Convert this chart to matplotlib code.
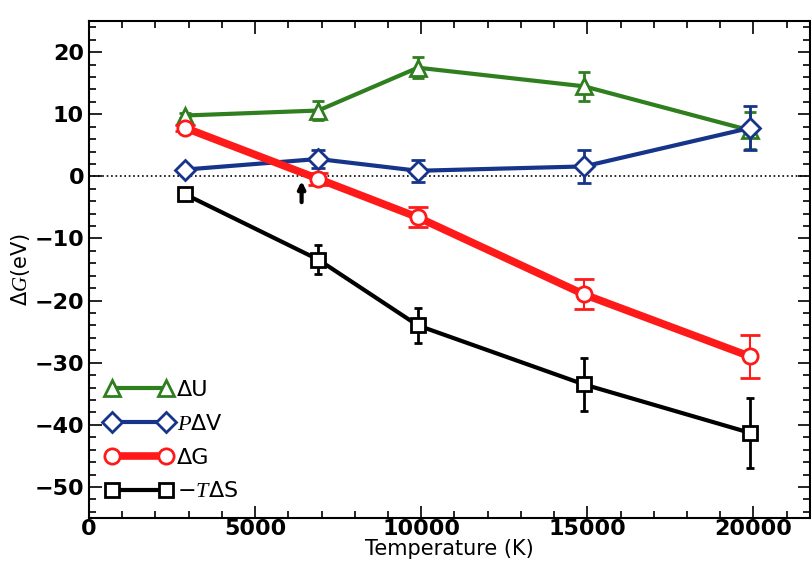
import numpy as np
import matplotlib
matplotlib.use('Agg')
import matplotlib.pyplot as plt
from matplotlib.ticker import MultipleLocator

# serif italic for the math symbols, sans for everything else
plt.rcParams['mathtext.fontset'] = 'custom'
plt.rcParams['mathtext.rm'] = 'DejaVu Sans'
plt.rcParams['mathtext.it'] = 'Liberation Serif:italic'
plt.rcParams['mathtext.bf'] = 'DejaVu Sans:bold'

# temperatures of the runs (K)
temps = [2900, 6900, 9900, 14900, 19900]

# energy contributions (eV) and their uncertainties
dU = [9.8, 10.6, 17.5, 14.5, 7.4]
dU_err = [0.4, 1.6, 1.7, 2.3, 3.0]
PdV = [1.1, 2.8, 0.9, 1.6, 7.8]
PdV_err = [0.3, 1.5, 1.8, 2.7, 3.5]
dG = [7.8, -0.4, -6.6, -19.0, -29.0]
dG_err = [0.5, 1.0, 1.6, 2.4, 3.4]
mTdS = [-2.9, -13.4, -24.0, -33.5, -41.3]
mTdS_err = [0.5, 2.3, 2.8, 4.2, 5.6]

# crossing point of dG through zero
T_cross = 6400

fig = plt.figure(figsize=(8.11, 5.64), dpi=100)
ax = fig.add_axes([0.1097, 0.0816, 0.889, 0.881])

ax.axhline(0, color='k', linestyle=':', linewidth=1.2, zorder=1)

c1 = ax.errorbar(temps, dU, yerr=dU_err, color='#2f7f1f', lw=3, marker='^', ms=11,
                 mfc='white', mec='#2f7f1f', mew=2, capsize=4, elinewidth=2,
                 capthick=2, zorder=2)
c2 = ax.errorbar(temps, PdV, yerr=PdV_err, color='#16348a', lw=3, marker='D', ms=10,
                 mfc='white', mec='#16348a', mew=2, capsize=5, elinewidth=2,
                 capthick=2, zorder=3)
c3 = ax.errorbar(temps, dG, yerr=dG_err, color='#ff1a1a', lw=5.5, marker='o', ms=11,
                 mfc='white', mec='#ff1a1a', mew=2, capsize=7, elinewidth=1.5,
                 capthick=1.5, zorder=4)
c4 = ax.errorbar(temps, mTdS, yerr=mTdS_err, color='k', lw=3, marker='s', ms=10,
                 mfc='white', mec='k', mew=2, capsize=3, elinewidth=2,
                 capthick=2, zorder=5)

ax.annotate('', xy=(T_cross, -0.3), xytext=(T_cross, -4.6),
            arrowprops=dict(arrowstyle='-|>', color='k', lw=3,
                            mutation_scale=10))

ax.set_xlim(0, 21700)
ax.set_ylim(-55, 25)
ax.xaxis.set_major_locator(MultipleLocator(5000))
ax.xaxis.set_minor_locator(MultipleLocator(1000))
ax.yaxis.set_major_locator(MultipleLocator(10))
ax.yaxis.set_minor_locator(MultipleLocator(2))
ax.tick_params(which='both', direction='in', top=True, right=True,
               labelsize=16, width=1.2)
ax.tick_params(which='major', length=9)
ax.tick_params(which='minor', length=5)
ax.tick_params(axis='x', pad=1)
for lab in ax.get_xticklabels() + ax.get_yticklabels():
    lab.set_fontweight('bold')
for s in ax.spines.values():
    s.set_linewidth(1.5)

ax.set_xlabel('Temperature (K)', fontsize=15, labelpad=0)
ax.set_ylabel('Δ$G$(eV)', fontsize=15, labelpad=2)

ax.legend([c1[0], c2[0], c3[0], c4[0]],
          ['ΔU', '$P$ΔV', 'ΔG', '−$T$ΔS'],
          loc='lower left', bbox_to_anchor=(0.0, 0.0), frameon=False,
          numpoints=2, handlelength=3.0, handletextpad=0.2, labelspacing=0.62,
          fontsize=16, borderaxespad=0.35)

fig.savefig('out.png', dpi=100)
